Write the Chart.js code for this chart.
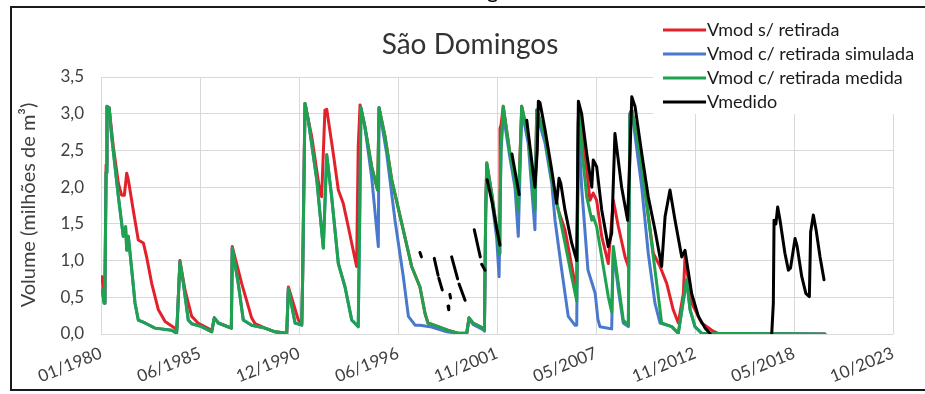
<!DOCTYPE html>
<html>
<head>
<meta charset="utf-8">
<script src="https://cdn.jsdelivr.net/npm/chart.js@4.4.0/dist/chart.umd.min.js"></script>
<style>
  html, body { margin: 0; padding: 0; background: #fff; }
  #wrap { position: relative; width: 925px; height: 394px; }
</style>
</head>
<body>
<div id="wrap"><canvas id="graph1" width="925" height="394"></canvas></div>
<script>
// x in decimal years, y in millions of m3
var chartTitle = 'São Domingos';
var yTitle = 'Volume (milhões de m³)';
var seriesNames = ['Vmod s/ retirada', 'Vmod c/ retirada simulada', 'Vmod c/ retirada medida', 'Vmedido'];
var seriesColors = ['#e3212b', '#4a78cc', '#1ea24e', '#000000'];
var xTickLabels = ['01/1980', '06/1985', '12/1990', '06/1996', '11/2001', '05/2007', '11/2012', '05/2018', '10/2023'];
var xMin = 1980, xMax = 2023.75;
var yTicks = [0, 0.5, 1, 1.5, 2, 2.5, 3, 3.5];

var semRetirada = [[1980.06,0.78],[1980.17,0.45],[1980.22,0.70],[1980.28,2.30],[1980.33,3.10],[1980.45,3.08],[1980.68,2.55],[1980.96,2.05],[1981.14,1.89],[1981.29,1.89],[1981.42,2.19],[1981.51,2.10],[1981.78,1.69],[1982.06,1.28],[1982.34,1.24],[1982.52,1.05],[1982.80,0.69],[1983.17,0.33],[1983.54,0.17],[1984.09,0.08],[1984.18,0.05],[1984.23,0.27],[1984.36,1.00],[1984.64,0.60],[1985.01,0.24],[1985.36,0.15],[1986.12,0.05],[1986.26,0.22],[1986.48,0.15],[1987.20,0.08],[1987.25,1.19],[1987.77,0.69],[1988.32,0.22],[1988.51,0.14],[1989.06,0.08],[1989.61,0.03],[1990.26,0.01],[1990.35,0.64],[1990.90,0.19],[1991.09,0.14],[1991.14,0.80],[1991.23,2.50],[1991.27,3.14],[1991.64,2.69],[1992.10,1.92],[1992.19,1.87],[1992.37,3.05],[1992.47,3.06],[1992.83,2.46],[1993.11,1.96],[1993.38,1.78],[1993.66,1.46],[1994.12,0.92],[1994.21,2.55],[1994.31,3.12],[1994.58,2.82],[1994.95,2.28],[1995.28,1.96],[1995.36,3.08],[1995.69,2.69],[1996.06,2.10],[1996.61,1.51],[1997.16,0.92],[1997.62,0.64],[1997.90,0.28],[1998.06,0.15],[1998.63,0.10],[1999.19,0.05],[1999.72,0.01],[2000.20,0.01],[2000.33,0.22],[2000.55,0.15],[2001.10,0.08],[2001.18,0.05],[2001.25,1.69],[2001.31,2.33],[2001.58,1.92],[2001.86,1.42],[2001.99,1.10],[2002.04,2.80],[2002.10,2.85],[2002.22,3.10],[2002.59,2.46],[2002.87,2.10],[2003.05,1.75],[2003.24,3.10],[2003.60,2.69],[2003.97,1.75],[2004.07,3.05],[2004.53,2.69],[2004.90,2.10],[2005.26,1.69],[2005.63,1.42],[2006.18,0.69],[2006.28,0.65],[2006.37,2.95],[2006.46,3.00],[2006.83,2.23],[2007.01,1.82],[2007.19,1.92],[2007.38,1.82],[2007.66,1.33],[2008.02,0.96],[2008.30,1.82],[2008.58,1.46],[2008.95,1.05],[2009.13,0.92],[2009.22,3.00],[2009.32,3.05],[2009.77,2.46],[2010.14,1.78],[2010.51,1.10],[2010.88,0.92],[2011.25,0.69],[2011.61,0.33],[2011.89,0.15],[2012.17,0.55],[2012.26,1.05],[2012.63,0.42],[2013.18,0.15],[2013.74,0.05],[2014.08,0.01],[2019.99,0.00]];

var retiradaSimulada = [[1980.07,0.60],[1980.17,0.42],[1980.22,0.64],[1980.28,2.20],[1980.33,3.10],[1980.45,3.08],[1980.59,2.69],[1980.96,1.87],[1981.23,1.33],[1981.36,1.46],[1981.42,1.14],[1981.51,1.33],[1981.70,0.87],[1981.88,0.42],[1982.06,0.19],[1982.43,0.15],[1982.98,0.08],[1983.91,0.05],[1984.18,0.01],[1984.23,0.27],[1984.36,0.98],[1984.55,0.69],[1984.82,0.19],[1985.01,0.14],[1985.56,0.10],[1986.12,0.03],[1986.26,0.22],[1986.48,0.15],[1987.20,0.08],[1987.25,1.17],[1987.58,0.69],[1987.86,0.19],[1988.32,0.12],[1989.06,0.08],[1989.61,0.03],[1990.26,0.01],[1990.35,0.62],[1990.72,0.15],[1991.09,0.12],[1991.14,0.78],[1991.27,3.14],[1991.45,2.91],[1991.92,2.10],[1992.28,1.17],[1992.47,2.44],[1992.74,1.87],[1993.11,0.96],[1993.48,0.64],[1993.85,0.19],[1994.21,0.10],[1994.30,1.78],[1994.36,3.08],[1994.58,2.82],[1994.95,2.14],[1995.32,1.19],[1995.36,3.08],[1995.78,2.46],[1996.24,1.55],[1996.70,0.78],[1996.98,0.24],[1997.35,0.12],[1997.62,0.12],[1998.17,0.10],[1999.10,0.03],[1999.72,0.01],[2000.20,0.00],[2000.33,0.20],[2000.55,0.13],[2001.10,0.06],[2001.18,0.04],[2001.25,1.60],[2001.31,2.30],[2001.58,1.85],[2001.86,1.30],[2001.99,0.78],[2002.10,2.50],[2002.22,3.00],[2002.59,2.40],[2002.87,2.00],[2003.05,1.33],[2003.24,3.05],[2003.60,2.60],[2003.97,1.42],[2004.07,3.00],[2004.53,2.60],[2004.90,2.05],[2005.08,1.55],[2005.45,0.87],[2005.81,0.24],[2006.18,0.12],[2006.28,0.12],[2006.37,2.90],[2006.55,2.00],[2006.90,0.87],[2007.19,0.64],[2007.30,0.55],[2007.45,0.20],[2007.56,0.10],[2008.21,0.07],[2008.30,1.15],[2008.58,0.60],[2008.85,0.15],[2009.13,0.10],[2009.22,3.00],[2009.32,3.05],[2009.87,2.00],[2010.23,1.10],[2010.60,0.42],[2010.88,0.15],[2011.53,0.10],[2011.89,0.01],[2012.17,0.46],[2012.35,0.74],[2012.54,0.33],[2012.81,0.10],[2013.18,0.01],[2019.99,0.00]];

var retiradaMedida = [[1980.07,0.60],[1980.17,0.42],[1980.22,0.64],[1980.28,2.20],[1980.33,3.10],[1980.45,3.08],[1980.59,2.69],[1980.96,1.87],[1981.23,1.33],[1981.36,1.46],[1981.42,1.14],[1981.51,1.33],[1981.70,0.87],[1981.88,0.42],[1982.06,0.19],[1982.43,0.15],[1982.98,0.08],[1983.91,0.05],[1984.18,0.01],[1984.23,0.27],[1984.36,0.98],[1984.55,0.69],[1984.82,0.19],[1985.01,0.14],[1985.56,0.10],[1986.12,0.03],[1986.26,0.22],[1986.48,0.15],[1987.20,0.08],[1987.25,1.17],[1987.58,0.69],[1987.86,0.19],[1988.32,0.12],[1989.06,0.08],[1989.61,0.03],[1990.26,0.01],[1990.35,0.62],[1990.72,0.15],[1991.09,0.12],[1991.14,0.78],[1991.27,3.14],[1991.45,2.91],[1991.92,2.10],[1992.28,1.17],[1992.47,2.44],[1992.74,1.87],[1993.11,0.96],[1993.48,0.64],[1993.85,0.19],[1994.21,0.10],[1994.30,1.78],[1994.36,3.08],[1994.58,2.82],[1994.95,2.28],[1995.28,1.96],[1995.36,3.08],[1995.69,2.69],[1996.06,2.10],[1996.61,1.51],[1997.16,0.92],[1997.62,0.64],[1997.90,0.28],[1998.06,0.15],[1998.63,0.10],[1999.19,0.05],[1999.72,0.01],[2000.20,0.01],[2000.33,0.22],[2000.55,0.15],[2001.10,0.08],[2001.18,0.05],[2001.25,1.69],[2001.31,2.33],[2001.58,1.92],[2001.86,1.42],[2001.99,1.08],[2002.10,2.55],[2002.22,3.10],[2002.59,2.46],[2002.87,2.10],[2003.05,1.69],[2003.24,3.10],[2003.60,2.69],[2003.97,1.69],[2004.07,3.05],[2004.53,2.69],[2004.90,2.10],[2005.26,1.69],[2005.63,1.24],[2006.00,0.78],[2006.28,0.45],[2006.37,2.90],[2006.46,3.00],[2006.55,2.55],[2006.83,1.87],[2007.11,1.55],[2007.19,1.60],[2007.38,1.46],[2007.66,1.05],[2008.02,0.51],[2008.21,0.30],[2008.30,1.19],[2008.58,0.69],[2008.85,0.19],[2009.13,0.12],[2009.22,3.00],[2009.32,3.05],[2009.77,2.46],[2010.14,1.78],[2010.51,1.05],[2010.79,0.51],[2010.97,0.15],[2011.53,0.10],[2011.89,0.01],[2012.17,0.46],[2012.35,0.74],[2012.54,0.33],[2012.81,0.10],[2013.18,0.01],[2019.99,0.00]];

// measured volume, null = no record
var medido = [[1997.62,1.11],[1997.70,1.05],[1997.71,null],[1998.41,1.03],[1998.62,0.80],[1998.63,null],[1998.66,0.76],[1998.85,0.60],[1998.86,null],[1999.17,0.38],[1999.21,0.33],[1999.22,null],[1999.27,0.54],[1999.31,0.49],[1999.33,null],[1999.37,1.05],[1999.70,0.75],[1999.72,null],[1999.78,0.68],[2000.11,0.46],[2000.13,null],[2000.62,1.42],[2000.95,1.05],[2000.97,null],[2001.03,0.95],[2001.21,0.87],[2001.23,null],[2001.33,2.10],[2001.60,1.80],[2001.85,1.45],[2002.04,1.21],[2002.06,null],[2002.70,2.45],[2003.10,1.90],[2003.12,null],[2003.52,2.91],[2003.97,2.00],[2004.10,2.50],[2004.16,3.17],[2004.25,3.15],[2004.53,2.78],[2004.90,2.23],[2005.17,1.78],[2005.30,2.12],[2005.40,2.05],[2005.63,1.69],[2006.00,1.24],[2006.28,1.00],[2006.37,3.17],[2006.55,3.00],[2006.83,2.46],[2007.11,2.00],[2007.19,2.37],[2007.38,2.28],[2007.66,1.69],[2008.02,1.19],[2008.21,1.37],[2008.39,2.73],[2008.76,2.00],[2009.09,1.55],[2009.20,2.30],[2009.32,3.23],[2009.50,3.10],[2009.87,2.46],[2010.23,1.87],[2010.60,1.42],[2010.97,0.92],[2011.16,1.60],[2011.43,1.96],[2011.71,1.55],[2012.08,1.05],[2012.26,1.14],[2012.63,0.55],[2013.00,0.24],[2013.37,0.08],[2013.64,0.01],[2013.70,null],[2017.05,0.00],[2017.14,0.42],[2017.18,1.55],[2017.28,1.50],[2017.38,1.73],[2017.51,1.55],[2017.78,1.10],[2017.97,0.87],[2018.09,0.90],[2018.34,1.30],[2018.45,1.20],[2018.71,0.78],[2018.94,0.55],[2019.13,0.51],[2019.20,1.39],[2019.35,1.62],[2019.50,1.42],[2019.72,1.05],[2019.94,0.74]];

var allSeries = [semRetirada, retiradaSimulada, retiradaMedida, medido];

function toPoints(arr) {
  return arr.map(function (p) { return { x: p[0], y: p[1] }; });
}

Chart.defaults.font.family = 'Lato';

var decor = {
  id: 'decor',
  afterDraw: function (chart) {
    var c = chart.ctx;
    c.save();
    // frame
    c.strokeStyle = '#1a1a1a';
    c.lineWidth = 2;
    c.beginPath();
    c.moveTo(930, 7); c.lineTo(11, 7); c.lineTo(11, 390); c.lineTo(930, 390);
    c.stroke();
    // piece of caption above the frame
    c.fillStyle = '#000';
    c.font = '22px Lato';
    c.textAlign = 'left';
    c.textBaseline = 'alphabetic';
    c.fillText('g', 487, -2);
    // title
    c.fillStyle = '#333333';
    c.font = '28px Lato';
    c.textAlign = 'center';
    c.textBaseline = 'middle';
    c.fillText(chartTitle, 470, 45);
    // y axis title
    c.save();
    c.translate(29, 205);
    c.rotate(-Math.PI / 2);
    c.fillStyle = '#404040';
    c.font = '20px Lato';
    c.fillText(yTitle, 0, 0);
    c.restore();
    // legend
    c.fillStyle = '#ffffff';
    c.fillRect(653, 12, 272, 102);
    c.font = '18px Lato';
    c.textAlign = 'left';
    for (var i = 0; i < seriesNames.length; i++) {
      var y = 30 + i * 24;
      c.strokeStyle = seriesColors[i];
      c.lineWidth = 3;
      c.beginPath();
      c.moveTo(663, y); c.lineTo(706, y);
      c.stroke();
      c.fillStyle = '#1a1a1a';
      c.fillText(seriesNames[i], 707, y);
    }
    c.restore();
  }
};

var datasets = allSeries.map(function (s, i) {
  return {
    label: seriesNames[i],
    data: toPoints(s),
    borderColor: seriesColors[i],
    backgroundColor: seriesColors[i],
    borderWidth: 3,
    pointRadius: 0,
    tension: 0,
    spanGaps: false,
    borderCapStyle: 'round',
    borderJoinStyle: 'round',
    order: seriesNames.length - i
  };
});

var chart = new Chart(document.getElementById('graph1').getContext('2d'), {
  type: 'line',
  data: { datasets: datasets },
  options: {
    responsive: false,
    animation: false,
    layout: { padding: { left: 0, top: 77, right: 32, bottom: 0 } },
    plugins: { legend: { display: false }, title: { display: false }, tooltip: { enabled: false } },
    scales: {
      x: {
        type: 'linear',
        min: xMin,
        max: xMax,
        afterBuildTicks: function (s) {
          s.ticks = xTickLabels.map(function (l, i) {
            return { value: xMin + i * (xMax - xMin) / (xTickLabels.length - 1) };
          });
        },
        afterFit: function (s) { s.height = 60; },
        grid: { color: '#d9d9d9', lineWidth: 1, drawTicks: false },
        border: { display: false },
        ticks: {
          autoSkip: false,
          minRotation: 22,
          maxRotation: 22,
          padding: 9,
          color: '#404040',
          font: { size: 17 },
          callback: function (v, i) { return xTickLabels[i]; }
        }
      },
      y: {
        min: 0,
        max: 3.5,
        afterBuildTicks: function (s) {
          s.ticks = yTicks.map(function (v) { return { value: v }; });
        },
        afterFit: function (s) { s.width = 101; },
        grid: { color: '#d9d9d9', lineWidth: 1, drawTicks: false },
        border: { display: false },
        ticks: {
          padding: 17,
          color: '#404040',
          font: { size: 17 },
          callback: function (v) { return v.toFixed(1).replace('.', ','); }
        }
      }
    }
  },
  plugins: [decor]
});
</script>
</body>
</html>
